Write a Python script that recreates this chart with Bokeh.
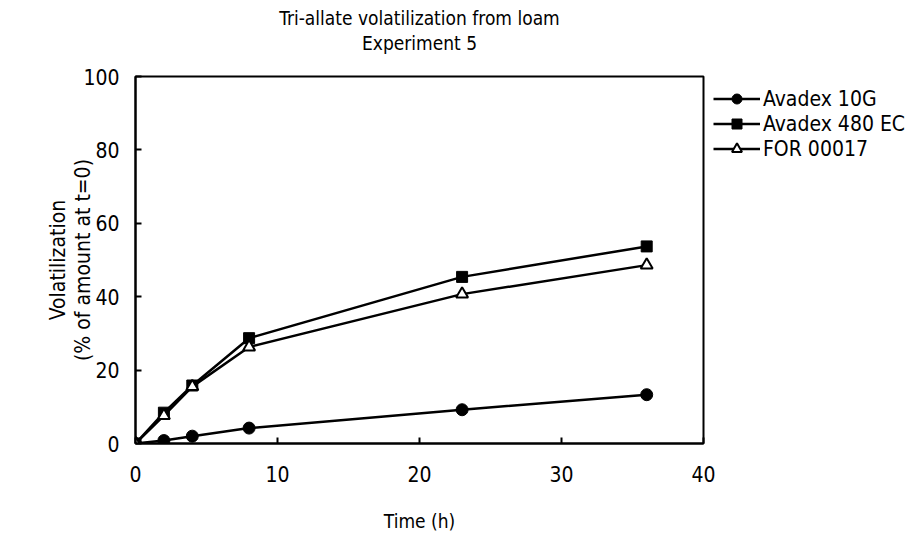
from bokeh.plotting import figure
from bokeh.models import Range1d, Legend, LegendItem, FixedTicker, Title
from bokeh.embed import file_html
from bokeh.resources import INLINE

time_h = [0, 2, 4, 8, 23, 36]
avadex_10g = [0, 0.8, 2.0, 4.2, 9.2, 13.3]
avadex_480ec = [0, 8.4, 15.8, 28.7, 45.4, 53.7]
for_00017 = [0, 7.6, 15.5, 26.3, 40.7, 48.6]

x_ticks = [0, 10, 20, 30, 40]
y_ticks = [0, 20, 40, 60, 80, 100]

FONT = "DejaVu Sans Condensed, Liberation Sans Narrow, Roboto, sans-serif"

p = figure(frame_width=568, frame_height=367, output_backend="svg", toolbar_location=None,
           x_range=Range1d(0, 40), y_range=Range1d(0, 100), title=None,
           min_border_left=135, min_border_right=202, min_border_top=76, min_border_bottom=85)

spacer = Title(text=" ", align="center", text_font=FONT, text_font_size="17px", standoff=0)
t2 = Title(text="Experiment 5", align="center", text_font=FONT, text_font_size="19px",
           text_font_style="normal", text_color="black", standoff=2)
t1 = Title(text="Tri-allate volatilization from loam", align="center", text_font=FONT,
           text_font_size="19px", text_font_style="normal", text_color="black", standoff=0)
p.add_layout(spacer, "above")
p.add_layout(t2, "above")
p.add_layout(t1, "above")

p.xgrid.visible = False
p.ygrid.visible = False
p.outline_line_color = "black"
p.outline_line_width = 2

for ax in (p.xaxis[0], p.yaxis[0]):
    ax.axis_line_width = 2
    ax.axis_line_color = "black"
    ax.major_tick_in = 6
    ax.major_tick_out = 0
    ax.minor_tick_line_color = None
    ax.major_tick_line_width = 2
    ax.major_tick_line_color = "black"
    ax.major_label_text_font = FONT
    ax.major_label_text_font_size = "21px"
    ax.major_label_text_color = "black"
    ax.axis_label_text_font = FONT
    ax.axis_label_text_font_style = "normal"
    ax.axis_label_text_color = "black"

p.xaxis.ticker = FixedTicker(ticks=x_ticks)
p.yaxis.ticker = FixedTicker(ticks=y_ticks)
p.xaxis.major_label_standoff = 22
p.yaxis.major_label_standoff = 16
p.xaxis.axis_label = "Time (h)"
p.xaxis.axis_label_text_font_size = "19px"
p.xaxis.axis_label_standoff = 25
p.yaxis.axis_label = "Volatilization\n(% of amount at t=0)"
p.yaxis.axis_label_text_font_size = "21px"
p.yaxis.axis_label_text_line_height = 1.05
p.yaxis.axis_label_standoff = -15

lw = 2.5
l1 = p.line(time_h, avadex_10g, line_color="black", line_width=lw)
m1 = p.scatter(time_h, avadex_10g, marker="circle", size=12, fill_color="black", line_color="black")
l2 = p.line(time_h, avadex_480ec, line_color="black", line_width=lw)
m2 = p.scatter(time_h, avadex_480ec, marker="square", size=11, fill_color="black", line_color="black")
l3 = p.line(time_h, for_00017, line_color="black", line_width=lw)
m3 = p.scatter(time_h, for_00017, marker="triangle", size=12, fill_color="white", line_color="black", line_width=2)

legend = Legend(items=[
    LegendItem(label="Avadex 10G", renderers=[l1, m1]),
    LegendItem(label="Avadex 480 EC", renderers=[l2, m2]),
    LegendItem(label="FOR 00017", renderers=[l3, m3]),
], location="top_left")
legend.label_text_font = FONT
legend.label_text_font_size = "21px"
legend.label_text_color = "black"
legend.glyph_width = 47
legend.glyph_height = 25
legend.label_height = 25
legend.label_standoff = 3
legend.spacing = 0
legend.padding = 0
legend.margin = 10
legend.border_line_color = None
legend.background_fill_alpha = 0
p.add_layout(legend, "right")

open("out.html", "w").write(file_html(p, INLINE))
